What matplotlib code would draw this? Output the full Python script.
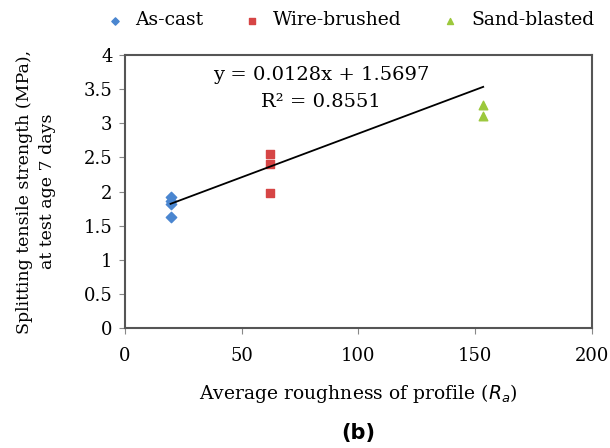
import numpy as np
import matplotlib.pyplot as plt

plt.rcParams['font.family'] = ['DejaVu Serif']

# roughness Ra and splitting tensile strength (MPa) at 7 days
cast_x = [19.5, 19.5, 19.5, 19.5]
cast_y = [1.92, 1.86, 1.81, 1.62]
wire_x = [62, 62, 62]
wire_y = [2.55, 2.40, 1.98]
sand_x = [153.5, 153.5]
sand_y = [3.27, 3.10]
slope, intercept = 0.0128, 1.5697

fig = plt.figure(figsize=(6.1, 4.48), dpi=100)
ax = fig.add_axes([0.205, 0.268, 0.765, 0.609])

ax.scatter(cast_x, cast_y, marker='D', s=28, color='#4a86d0', label='As-cast', zorder=3)
ax.scatter(wire_x, wire_y, marker='s', s=30, color='#d64545', label='Wire-brushed', zorder=3)
ax.scatter(sand_x, sand_y, marker='^', s=38, color='#9cc83c', label='Sand-blasted', zorder=3)

xs = np.array([min(cast_x), max(sand_x)])
ax.plot(xs, slope * xs + intercept, color='black', lw=1.3, zorder=4)

ax.text(84, 3.51, 'y = 0.0128x + 1.5697\nR² = 0.8551', ha='center', va='center',
        fontsize=14, linespacing=1.7)

ax.set_xlim(0, 200)
ax.set_ylim(0, 4)
ax.set_xticks([0, 50, 100, 150, 200])
ax.set_yticks([0, 0.5, 1, 1.5, 2, 2.5, 3, 3.5, 4])
ax.set_yticklabels(['0', '0.5', '1', '1.5', '2', '2.5', '3', '3.5', '4'])
ax.tick_params(labelsize=13, direction='out', length=4, color='#888888', pad=5)
ax.tick_params(axis='x', pad=10)
for s in ax.spines.values():
    s.set_color('#555555')
    s.set_linewidth(1.5)

ax.set_xlabel('Average roughness of profile ($R_a$)', fontsize=13.5, labelpad=12)
ax.set_ylabel('Splitting tensile strength (MPa),\nat test age 7 days', fontsize=12.5,
              labelpad=20, linespacing=1.5)

fig.legend(loc='upper left', bbox_to_anchor=(0.13, 1.012), ncol=3, frameon=False,
           fontsize=13.5, handletextpad=0.1, columnspacing=1.6, markerscale=0.7)

fig.text(0.587, 0.033, '(b)', ha='center', va='center', fontsize=15, fontweight='bold',
         family='DejaVu Sans')

fig.savefig('out.png', dpi=100)
